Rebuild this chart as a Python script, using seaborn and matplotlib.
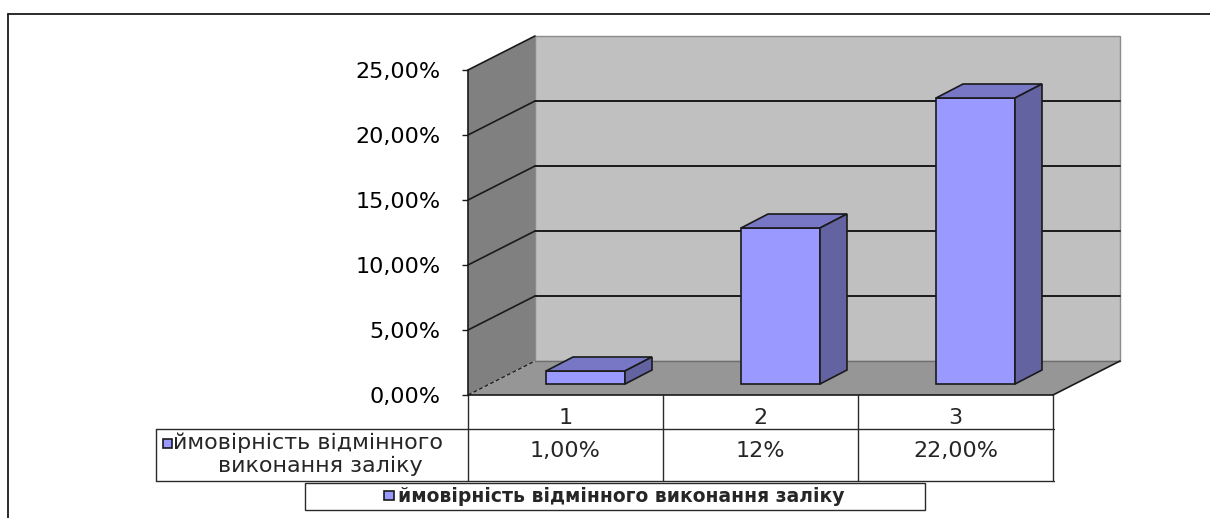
import pandas as pd
import seaborn as sns
import matplotlib.pyplot as plt
from matplotlib.patches import Polygon, Rectangle
from matplotlib.lines import Line2D
from matplotlib.transforms import Affine2D, blended_transform_factory

# --- data ---
categories = ['1', '2', '3']
values = [1.0, 12.0, 22.0]                       # percent
value_labels = ['1,00%', '12%', '22,00%']
y_ticks = [0, 5, 10, 15, 20, 25]
y_tick_labels = ['0,00%', '5,00%', '10,00%', '15,00%', '20,00%', '25,00%']
series_name = 'ймовірність відмінного виконання заліку'

# --- styling ---
W, H = 1210, 518
FRONT = '#9999FF'
TOP = '#7777C6'
SIDE = '#6363A2'
BACK_WALL = '#C0C0C0'
LEFT_WALL = '#808080'
FLOOR = '#969696'
EDGE = '#1a1a1a'
FS = 16

sns.set_theme(style='white')
plt.rcParams['font.family'] = ['DejaVu Sans']

fig = plt.figure(figsize=(W / 100, H / 100), dpi=100)


def fx(x):
    return x / W


def fy(y):
    return 1 - y / H


# the axes is the front plane of the 3D box
ax = fig.add_axes([fx(468), fy(395), (1053 - 468) / W, (395 - 70) / H])

df = pd.DataFrame({'cat': categories, 'val': values})
sns.barplot(data=df, x='cat', y='val', ax=ax, color=FRONT, width=0.405,
            saturation=1, edgecolor=EDGE, linewidth=1.2, zorder=5)
bars = list(ax.patches)

ax.set_xlim(-0.5, len(categories) - 0.5)
ax.set_ylim(y_ticks[0], y_ticks[-1])


def px_to_data(dx, dy):
    inv = ax.transData.inverted()
    p0 = inv.transform((0, 0))
    p1 = inv.transform((dx, dy))
    return p1[0] - p0[0], p1[1] - p0[1]


depth_x, depth_y = px_to_data(67, 34)      # full box depth
off_x, off_y = px_to_data(20, 11)          # where the bars stand
bdx, bdy = px_to_data(27, 14)              # bar depth

x0, x1 = ax.get_xlim()
top = y_ticks[-1]

# walls and floor
ax.add_patch(Rectangle((x0 + depth_x, depth_y), x1 - x0, top, fc=BACK_WALL,
                       ec='#8c8c8c', lw=1.0, clip_on=False, zorder=0))
ax.add_patch(Polygon([(x0, 0), (x0, top), (x0 + depth_x, top + depth_y), (x0 + depth_x, depth_y)],
                     closed=True, fc=LEFT_WALL, ec='none', clip_on=False, zorder=0.5))
ax.add_patch(Polygon([(x0, 0), (x1, 0), (x1 + depth_x, depth_y), (x0 + depth_x, depth_y)],
                     closed=True, fc=FLOOR, ec='none', clip_on=False, zorder=0.5))

# gridlines on left and back walls
for t in y_ticks[1:]:
    ax.plot([x0, x0 + depth_x], [t, t + depth_y], color=EDGE, lw=1.2, clip_on=False, zorder=1)
    if t < top:
        ax.plot([x0 + depth_x, x1 + depth_x], [t + depth_y, t + depth_y], color=EDGE, lw=1.4,
                clip_on=False, zorder=1)
ax.plot([x0 + depth_x, x1 + depth_x], [depth_y, depth_y], color='#6e6e6e', lw=1.0, clip_on=False, zorder=1)
ax.plot([x0, x0 + depth_x], [0, depth_y], color=EDGE, lw=0.9, ls=(0, (3, 2)), clip_on=False, zorder=1)
ax.plot([x1, x1 + depth_x], [0, depth_y], color=EDGE, lw=1.2, clip_on=False, zorder=1)
ax.plot([x0, x1], [0, 0], color=EDGE, lw=1.2, clip_on=False, zorder=1)

# give the seaborn bars their 3D faces
bar_tr = Affine2D().translate(off_x, off_y) + ax.transData
for p in bars:
    p.set_transform(bar_tr)
    p.set_clip_on(False)
    bx0 = p.get_x()
    bx1 = bx0 + p.get_width()
    h = p.get_height()
    ax.add_patch(Polygon([(bx0, h), (bx1, h), (bx1 + bdx, h + bdy), (bx0 + bdx, h + bdy)], closed=True,
                         fc=TOP, ec=EDGE, lw=1.2, transform=bar_tr, clip_on=False, zorder=5))
    ax.add_patch(Polygon([(bx1, 0), (bx1 + bdx, bdy), (bx1 + bdx, h + bdy), (bx1, h)], closed=True,
                         fc=SIDE, ec=EDGE, lw=1.2, transform=bar_tr, clip_on=False, zorder=5))

# axis styling
for side in ['top', 'right', 'bottom']:
    ax.spines[side].set_visible(False)
ax.spines['left'].set_color(EDGE)
ax.spines['left'].set_linewidth(1.2)
ax.spines['left'].set_zorder(3)
ax.set_yticks(y_ticks, y_tick_labels)
ax.tick_params(axis='y', left=True, direction='out', length=4.3, width=1.0, color=EDGE,
               pad=15.5, labelsize=FS, labelcolor='black')
ax.set_xticks([])
ax.set_xlabel('')
ax.set_ylabel('')
ax.patch.set_visible(False)

# --- data table under the chart ---
line_kw = dict(color='#2a2a2a', lw=1.0)


def fig_line(xs, ys):
    fig.add_artist(Line2D([fx(v) for v in xs], [fy(v) for v in ys], **line_kw))


col_tr = blended_transform_factory(ax.transData, fig.transFigure)
edges = [x0 + i for i in range(len(categories) + 1)]
for e in edges:
    ax.plot([e, e], [fy(395), fy(481)], transform=col_tr, clip_on=False, **line_kw)
fig_line([156, 1054], [429, 429])
fig_line([156, 1054], [481, 481])
fig_line([156, 156], [429, 481])

for i, (c, v) in enumerate(zip(categories, value_labels)):
    ax.text(i, fy(418), c, transform=col_tr, ha='center', va='center', fontsize=FS)
    ax.text(i, fy(451), v, transform=col_tr, ha='center', va='center', fontsize=FS)

words = series_name.split()
fig.add_artist(Rectangle((fx(163), fy(448)), 9 / W, 9 / H, fc=FRONT, ec=EDGE, lw=1.2))
fig.text(fx(173), fy(443), ' '.join(words[:2]), ha='left', va='center', fontsize=FS)
fig.text(fx(320), fy(466), ' '.join(words[2:]), ha='center', va='center', fontsize=FS)

# legend box
fig.add_artist(Rectangle((fx(305), fy(510)), (925 - 305) / W, (510 - 483) / H,
                         fc='white', ec='#2a2a2a', lw=1.0))
fig.add_artist(Rectangle((fx(384), fy(500)), 10 / W, 9 / H, fc=FRONT, ec=EDGE, lw=1.2))
fig.text(fx(398), fy(497), series_name, ha='left', va='center', fontsize=13.5, fontweight='bold')

# outer chart frame
fig.add_artist(Line2D([fx(8), fx(1210)], [fy(14), fy(14)], color=EDGE, lw=1.3))
fig.add_artist(Line2D([fx(8), fx(8)], [fy(14), fy(518)], color=EDGE, lw=1.3))

fig.savefig('out.png', dpi=100)
